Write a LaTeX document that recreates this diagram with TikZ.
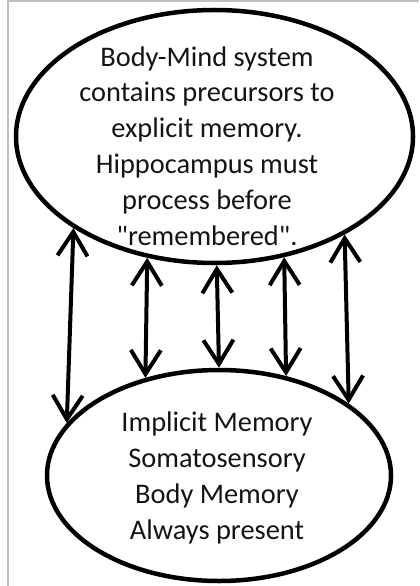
\documentclass[tikz,border=0pt]{standalone}
\usepackage{fontspec}
\setmainfont{Carlito}[Ligatures=TeXOff]
\usetikzlibrary{shapes.geometric, arrows.meta}

\begin{document}
\begin{tikzpicture}[
    x=1bp, y=-1bp,
    blob/.style={
        ellipse,
        draw, line width=4.5bp,
        inner sep=0pt
    },
    blobtext/.style={
        align=center,
        text=black!92,
        font=\fontsize{28.5}{36}\selectfont
    },
    link/.style={
        line width=4bp,
        {Straight Barb[length=24bp, width=30bp, line width=4bp]}-{Straight Barb[length=24bp, width=30bp, line width=4bp]}
    },
    slideedge/.style={draw=black!25, line width=1.5bp}
]
    \useasboundingbox (0,0) rectangle (419,586);

    % Slide edge ===========================
    \draw[slideedge] (8,586) -- (8,1) -- (419,1);

    % The 2 Ellipses ===========================
    \node[blob, minimum width=397bp, minimum height=253bp] (Mind) at (214.5,136.5) {};
    \node[blob, minimum width=344bp, minimum height=211bp] (Body) at (219,475.5) {};

    \node[blobtext] (MindText) at (207,146) {
        Body-Mind system\\
        contains precursors to\\
        explicit memory.\\
        Hippocampus must\\
        process before\\
        "remembered".
    };

    \node[blobtext] (BodyText) at (217,478) {
        Implicit Memory\\
        Somatosensory\\
        Body Memory\\
        Always present
    };

    % Two-way Connection Edges ====================
    \draw[link] (Mind.213) -- (Body.161);
    \draw[link] (Mind.241) -- (Body.127);
    \draw[link] (Mind.271) -- (Body.90);
    \draw[link] (Mind.300) -- (Body.56);
    \draw[link] (Mind.323) -- (Body.29);

\end{tikzpicture}
\end{document}
